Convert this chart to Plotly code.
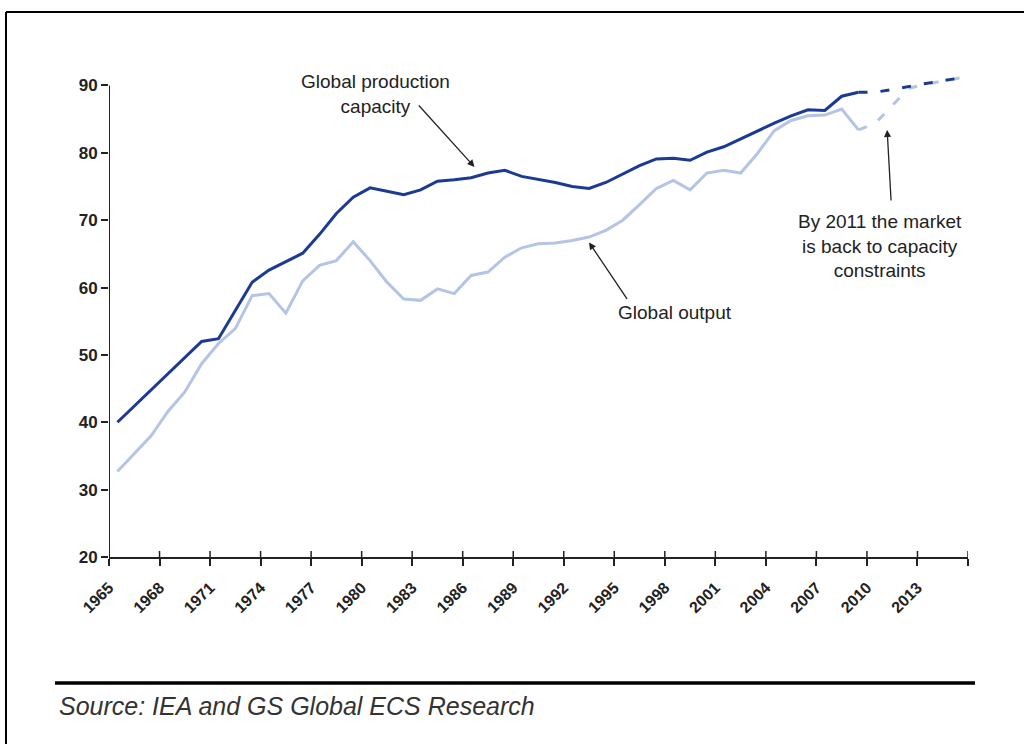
import plotly.graph_objects as go

# ---- data ----
years_hist = list(range(1965, 2010))
capacity = [40.0, 42.4, 44.8, 47.2, 49.6, 52.0, 52.4, 56.6, 60.8, 62.6,
            63.8, 65.1, 67.9, 71.0, 73.4, 74.8, 74.3, 73.8, 74.5, 75.8,
            76.0, 76.3, 77.0, 77.4, 76.5, 76.1, 75.6, 75.0, 74.7, 75.6,
            76.9, 78.1, 79.1, 79.2, 78.9, 80.1, 80.9, 82.1, 83.2, 84.4,
            85.5, 86.4, 86.3, 88.4, 89.0]
output = [32.7, 35.3, 38.0, 41.6, 44.5, 48.7, 51.7, 53.9, 58.8, 59.1,
          56.2, 61.0, 63.3, 64.0, 66.8, 64.0, 60.8, 58.3, 58.1, 59.8,
          59.1, 61.8, 62.3, 64.5, 65.9, 66.5, 66.6, 67.0, 67.5, 68.5,
          70.0, 72.3, 74.7, 75.9, 74.5, 77.0, 77.4, 77.0, 79.9, 83.3,
          84.8, 85.5, 85.6, 86.5, 83.4]
years_fc = list(range(2009, 2016))
capacity_fc = [89.0, 89.0, 89.4, 89.9, 90.3, 90.7, 91.1]
output_fc = [83.4, 84.4, 87.0, 89.6, 90.2, 90.7, 91.1]

tick_labels = ["1965", "1968", "1971", "1974", "1977", "1980", "1983", "1986",
               "1989", "1992", "1995", "1998", "2001", "2004", "2007", "2010",
               "2013", ""]
y_ticks = [20, 30, 40, 50, 60, 70, 80, 90]

# ---- style ----
DARK = "#1b3a93"
LIGHT = "#b4c4e4"
INK = "#222222"
FONT = "Liberation Sans, Arial, sans-serif"

W, H = 1024, 744
ML, MR, MT, MB = 109, 56, 72, 187
X0, X1 = 1964.5, 2015.5
Y0, Y1 = 20, 92
tick_pos = [X0 + 3 * i for i in range(len(tick_labels))]

def px2paper(x, y):
    pw = W - ML - MR
    ph = H - MT - MB
    return (x - ML) / pw, (H - MB - y) / ph

fig = go.Figure()
fig.add_trace(go.Scatter(x=years_fc, y=output_fc, mode="lines",
                         line=dict(color=LIGHT, width=3, dash="9px,13px"),
                         hoverinfo="skip", showlegend=False))
fig.add_trace(go.Scatter(x=years_hist, y=output, mode="lines",
                         line=dict(color=LIGHT, width=3), name="Global output",
                         showlegend=False))
fig.add_trace(go.Scatter(x=years_fc, y=capacity_fc, mode="lines",
                         line=dict(color=DARK, width=3, dash="9px,13px"),
                         hoverinfo="skip", showlegend=False))
fig.add_trace(go.Scatter(x=years_hist, y=capacity, mode="lines",
                         line=dict(color=DARK, width=3),
                         name="Global production capacity", showlegend=False))

shapes = []
# y axis line from 20 to 90
shapes.append(dict(type="line", xref="x", yref="y", x0=X0, x1=X0,
                   y0=y_ticks[0], y1=y_ticks[-1], line=dict(color=INK, width=2)))
# inner halves of x ticks (ticks cross the axis)
unit = (H - MT - MB) / (Y1 - Y0)
for tp in tick_pos:
    shapes.append(dict(type="line", xref="x", yref="y", x0=tp, x1=tp,
                       y0=Y0, y1=Y0 + 6 / unit, line=dict(color=INK, width=1.5)))
# page frame
a = px2paper(6, 12); b = px2paper(1030, 12); c = px2paper(6, 750)
shapes.append(dict(type="line", xref="paper", yref="paper", x0=a[0], y0=a[1],
                   x1=b[0], y1=b[1], line=dict(color="#000", width=2)))
shapes.append(dict(type="line", xref="paper", yref="paper", x0=a[0], y0=a[1],
                   x1=c[0], y1=c[1], line=dict(color="#000", width=2)))
# source separator
s0 = px2paper(55, 683); s1 = px2paper(975, 683)
shapes.append(dict(type="line", xref="paper", yref="paper", x0=s0[0], y0=s0[1],
                   x1=s1[0], y1=s1[1], line=dict(color="#000", width=3.5)))

annots = []
def text_at(x, y, txt, size=19, anchor="center", italic=False, color=INK):
    px, py = px2paper(x, y)
    annots.append(dict(xref="paper", yref="paper", x=px, y=py, text=txt,
                       showarrow=False, xanchor=anchor, yanchor="middle",
                       align=anchor if anchor != "center" else "center",
                       font=dict(family=FONT, size=size, color=color,
                                 style="italic" if italic else "normal")))

def arrow(hx, hy, ax, ay):
    annots.append(dict(xref="x", yref="y", x=hx, y=hy, ax=ax, ay=ay, text="",
                       showarrow=True, arrowhead=2, arrowsize=1.1,
                       arrowwidth=1.3, arrowcolor=INK, standoff=0))

text_at(375, 94, "Global production<br>capacity")
arrow(1986.2, 77.9, -57, -63)
text_at(675, 312, "Global output")
arrow(1993.0, 66.7, 39, 58)
text_at(880, 246, "By 2011 the market<br>is back to capacity<br>constraints")
arrow(2010.7, 83.4, 4, 72)
text_at(57, 706, "Source: IEA and GS Global ECS Research", size=25,
        anchor="left", italic=True, color="#333333")

fig.update_layout(
    width=W, height=H,
    margin=dict(l=ML, r=MR, t=MT, b=MB, pad=0),
    paper_bgcolor="white", plot_bgcolor="white",
    font=dict(family=FONT, color=INK),
    shapes=shapes, annotations=annots,
    xaxis=dict(range=[X0, X1], tickmode="array", tickvals=tick_pos,
               ticktext=tick_labels, tickangle=-45, ticks="outside",
               ticklen=7, tickwidth=1.5, tickcolor=INK, showline=True,
               linecolor=INK, linewidth=2, showgrid=False, zeroline=False,
               ticklabelstandoff=6,
               tickfont=dict(family=FONT, size=16, color=INK, weight="bold")),
    yaxis=dict(range=[Y0, Y1], tickmode="array", tickvals=y_ticks,
               ticks="outside", ticklen=7, tickwidth=1.5, tickcolor=INK,
               showline=False, showgrid=False, zeroline=False,
               tickfont=dict(family=FONT, size=17, color=INK, weight="bold")),
)

fig.write_html("out.html",
               config={"displayModeBar": False},
               post_script="document.body.style.margin='0';"
                           "document.body.style.overflow='hidden';")
